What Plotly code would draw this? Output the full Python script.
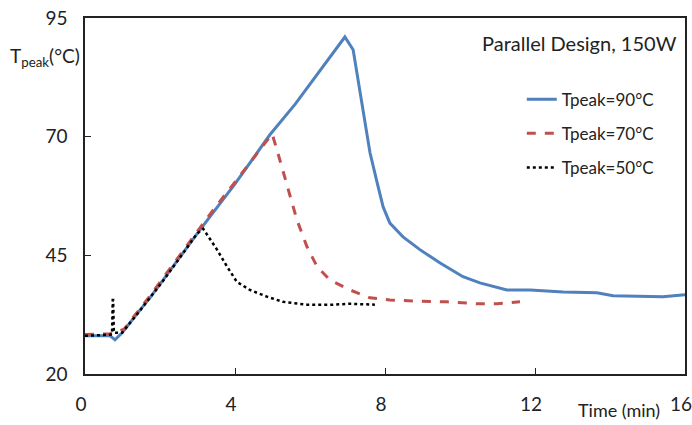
import plotly.graph_objects as go

# Tpeak = 90°C
t90 = [0, 0.67, 0.8, 0.99, 1.47, 1.73, 2.08, 2.53, 2.99, 3.07, 4.0, 4.93, 5.6, 6.08, 6.53, 6.93,
       7.15, 7.39, 7.6, 7.79, 7.95, 8.13, 8.48, 8.93, 9.47, 10.08, 10.53, 11.25, 11.87, 12.75, 13.65,
       14.08, 15.41, 16.0]
T90 = [28.05, 28.05, 27.2, 28.7, 33.5, 36.05, 39.8, 44.7, 49.7, 50.4, 60.05, 70.4, 76.8, 82.0, 86.8, 91.0,
       88.3, 77.1, 66.6, 60.3, 55.2, 51.8, 48.9, 46.2, 43.4, 40.5, 39.2, 37.7, 37.7, 37.3, 37.1,
       36.5, 36.3, 36.7]

# Tpeak = 70°C
t70 = [0, 0.67, 0.88, 1.05, 1.47, 1.73, 2.08, 2.53, 2.99, 3.5, 4.0, 4.5, 4.99,
       5.12, 5.33, 5.65, 5.92, 6.19, 6.53, 7.07, 7.6, 8.13, 8.75, 9.65, 10.45, 10.99, 11.6]
T70 = [28.3, 28.5, 28.9, 29.5, 33.8, 36.4, 40.2, 45.1, 50.0, 55.4, 60.4, 65.5, 70.6,
       67.2, 61.5, 52.5, 46.8, 42.6, 39.8, 37.7, 36.05, 35.6, 35.4, 35.2, 34.8, 34.8, 35.2]

# Tpeak = 50°C
t50 = [0, 0.72, 0.74, 0.75, 0.77, 0.99, 1.47, 1.73, 2.08, 2.53, 2.99, 3.15,
       3.52, 3.79, 4.05, 4.4, 4.85, 5.28, 5.92, 6.61, 7.07, 7.73]
T50 = [28.05, 28.3, 35.6, 35.6, 28.7, 28.7, 33.4, 36.0, 39.6, 44.5, 49.6, 50.6,
       46.2, 42.6, 39.4, 37.7, 36.3, 35.2, 34.6, 34.6, 34.8, 34.6]

x_ticks = [0, 4, 8, 12, 16]
x_labels = ["0", "4", "8", "12", "16"]
y_ticks = [20, 45, 70, 95]

FONT = "Lato"

fig = go.Figure()
fig.add_trace(go.Scatter(x=t90, y=T90, mode="lines", name="Tpeak=90°C", legendgroup="a",
                         line=dict(color="#4F81BD", width=3)))
fig.add_trace(go.Scatter(x=t70, y=T70, mode="lines", name="Tpeak=70°C", legendgroup="b",
                         line=dict(color="#C0504D", width=3, dash="dash")))
fig.add_trace(go.Scatter(x=t50, y=T50, mode="lines", name="Tpeak=50°C", legendgroup="c",
                         line=dict(color="#000000", width=2.5, dash="dot")))

fig.update_layout(
    width=692, height=425,
    margin=dict(l=85, r=7, t=18, b=51, autoexpand=False),
    paper_bgcolor="white", plot_bgcolor="white",
    font=dict(family=FONT, size=19, color="#222"),
    showlegend=True,
    legend=dict(x=0.728, y=0.821, xanchor="left", yanchor="top", bgcolor="rgba(0,0,0,0)",
                font=dict(size=17, family=FONT), tracegroupgap=9),
    xaxis=dict(range=[0, 16], tickvals=x_ticks, ticktext=x_labels,
               showgrid=False, zeroline=False, showline=True, linecolor="#222", linewidth=1.5,
               mirror=True, ticks="inside", ticklen=6, tickcolor="#222",
               ticklabelstandoff=12, ticklabelshift=-4, ticklabeloverflow="allow", automargin=False,
               tickfont=dict(size=19)),
    yaxis=dict(range=[20, 95], tickvals=y_ticks, ticktext=[str(v) for v in y_ticks],
               showgrid=False, zeroline=False, showline=True, linecolor="#222", linewidth=1.5,
               mirror=True, ticks="inside", ticklen=6, tickcolor="#222",
               ticklabelstandoff=12, tickfont=dict(size=19)),
    annotations=[
        dict(text="T<sub>peak</sub>(°C)", xref="paper", yref="paper", x=-0.005, y=0.89,
             xanchor="right", yanchor="middle", showarrow=False, font=dict(size=19)),
        dict(text="Time (min)", xref="paper", yref="paper", x=0.962, y=-0.102,
             xanchor="right", yanchor="middle", showarrow=False, font=dict(size=18)),
        dict(text="Parallel Design, 150W", xref="paper", yref="paper", x=0.99, y=0.93,
             xanchor="right", yanchor="middle", showarrow=False, font=dict(size=20)),
    ],
)

fig.write_html("out.html", config={"displayModeBar": False},
               post_script="document.body.style.margin='0';")
